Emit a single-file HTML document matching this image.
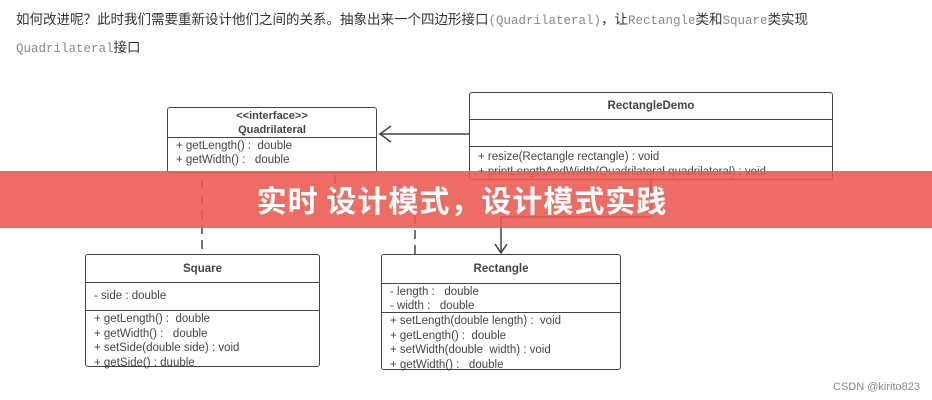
<!DOCTYPE html>
<html><head><meta charset="utf-8"><style>
body{margin:0;width:932px;height:400px;background:#fff;position:relative;overflow:hidden;font-family:"Liberation Sans","Noto Sans CJK SC",sans-serif}
.t{position:absolute;left:16px;font-size:13.5px;color:#333}
.m{font-family:"Liberation Mono",monospace;color:#888;font-size:12.5px}
.b{position:absolute;border:1.8px solid #444;border-radius:3px;background:#fff;box-sizing:border-box;font-size:11.5px;color:#444}
.h{font-weight:bold;text-align:center;border-bottom:1.5px solid #444;box-sizing:border-box;display:flex;flex-direction:column;justify-content:center;line-height:14px}
.s{border-bottom:1.5px solid #444;box-sizing:border-box;padding:2px 8px;line-height:14px}
.p{padding:1px 8px;line-height:14px}
#ban{position:absolute;left:0;top:171px;width:924px;padding-right:8px;height:57px;background:rgba(234,88,78,0.88);color:#fff;font-weight:bold;font-size:30px;text-align:center;line-height:57px;letter-spacing:1px;font-family:"Noto Sans CJK SC",sans-serif}
</style></head><body>
<div class="t" style="top:8px">如何改进呢？此时我们需要重新设计他们之间的关系。抽象出来一个四边形接口<span class="m">(Quadrilateral)</span>，让<span class="m">Rectangle</span>类和<span class="m">Square</span>类实现</div>
<div class="t" style="top:36px"><span class="m">Quadrilateral</span>接口</div>
<svg style="position:absolute;left:0;top:0" width="932" height="400">
<g stroke="#444" stroke-width="1.5" fill="none">
<line x1="469" y1="134" x2="379" y2="134"/><polyline points="391,126 380,134 391,142"/>
<polyline points="651,180 651,217 501,217 501,252"/><polyline points="495,244 501,253 507,244"/>
<line x1="202" y1="180" x2="202" y2="254" stroke-dasharray="9,6"/>
<line x1="415" y1="200" x2="415" y2="254" stroke-dasharray="9,6"/>
<line x1="335" y1="175" x2="335" y2="200" stroke-dasharray="9,6"/>
</g></svg>
<div class="b" style="left:167px;top:107px;width:210px;height:66px">
<div class="h" style="height:30px;font-size:11px"><span>&lt;&lt;interface&gt;&gt;</span><span>Quadrilateral</span></div>
<div class="p">+ getLength() :&nbsp; double<br>+ getWidth() :&nbsp;&nbsp; double</div></div>
<div class="b" style="left:469px;top:92px;width:364px;height:88px">
<div class="h" style="height:27px">RectangleDemo</div><div class="s" style="height:27px"></div>
<div class="p" style="padding-top:3px;line-height:15px">+ resize(Rectangle rectangle) : void<br>+ printLengthAndWidth(Quadrilateral quadrilateral) : void</div></div>
<div class="b" style="left:85px;top:254px;width:235px;height:113px">
<div class="h" style="height:28px">Square</div><div class="s" style="height:28px;padding-top:6px">- side : double</div>
<div class="p" style="line-height:14.5px">+ getLength() :&nbsp; double<br>+ getWidth() :&nbsp;&nbsp; double<br>+ setSide(double side) : void<br>+ getSide() : duuble</div></div>
<div class="b" style="left:381px;top:254px;width:240px;height:116px">
<div class="h" style="height:29px">Rectangle</div><div class="s" style="height:29px;padding-top:1px">- length :&nbsp;&nbsp; double<br>- width :&nbsp;&nbsp; double</div>
<div class="p" style="line-height:14.5px">+ setLength(double length) :&nbsp; void<br>+ getLength() :&nbsp; double<br>+ setWidth(double&nbsp; width) : void<br>+ getWidth() :&nbsp;&nbsp; double</div></div>
<div id="ban">实时 设计模式，设计模式实践</div>
<div style="position:absolute;right:12px;top:381px;font-size:11px;color:#888">CSDN @kirito823</div>
</body></html>
